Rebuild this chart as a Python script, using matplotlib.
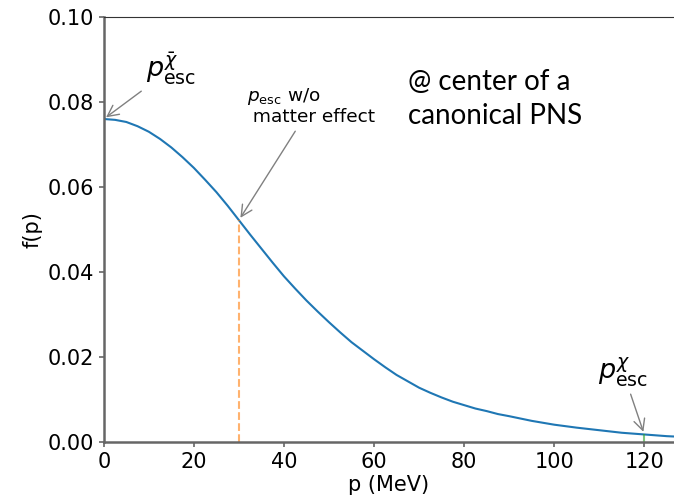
import numpy as np
import matplotlib
matplotlib.use("Agg")
import matplotlib.pyplot as plt

# momentum grid (MeV) and distribution
p_vals = [0, 2.5, 5, 7.5, 10, 12.5, 15, 17.5, 20, 22.5, 25, 27.5, 30, 32.5,
          35, 37.5, 40, 42.5, 45, 47.5, 50, 52.5, 55, 57.5, 60, 62.5, 65,
          67.5, 70, 72.5, 75, 77.5, 80, 82.5, 85, 87.5, 90, 95, 100, 105,
          110, 115, 120, 125, 127]
f_vals = [0.0760, 0.0758, 0.0753, 0.0743, 0.0730, 0.0713, 0.0693, 0.0670,
          0.0645, 0.0617, 0.0588, 0.0556, 0.0522, 0.0488, 0.0455, 0.0422,
          0.0390, 0.0361, 0.0333, 0.0307, 0.0282, 0.0258, 0.0235, 0.0215,
          0.0195, 0.0176, 0.0158, 0.0143, 0.0128, 0.0116, 0.0105, 0.0095,
          0.0087, 0.0079, 0.0073, 0.0066, 0.0061, 0.0050, 0.0041, 0.0034,
          0.0028, 0.0022, 0.0018, 0.0014, 0.0013]

p_esc_nomatter = 30
f_esc_nomatter = 0.0522
p_esc_chi = 120
f_esc_chi = 0.0018
p_esc_chibar = 0
f_esc_chibar = 0.0760

fig = plt.figure(figsize=(6.74, 4.99), dpi=100)
ax = fig.add_axes([0.154, 0.114, 0.846, 0.852])

ax.plot(p_vals, f_vals, color="tab:blue", lw=1.5)
ax.vlines(p_esc_nomatter, 0, f_esc_nomatter, colors="tab:orange", linestyles="--", alpha=0.6, lw=1.5)
ax.vlines(p_esc_chi, 0, f_esc_chi, colors="tab:green", alpha=0.6, lw=1.5)

ax.set_xlim(0, 126.6)
ax.set_ylim(0, 0.1)
ax.set_yticks([0, 0.02, 0.04, 0.06, 0.08, 0.10])
ax.set_xticks([0, 20, 40, 60, 80, 100, 120])
ax.tick_params(labelsize=15, color="#666666", width=1.2)
ax.set_xlabel("p (MeV)", fontsize=15, labelpad=2)
ax.set_ylabel("f(p)", fontsize=15)

for side in ["left", "bottom"]:
    ax.spines[side].set_color("#666666")
    ax.spines[side].set_linewidth(1.8)
ax.spines["top"].set_color("#333333")
ax.spines["right"].set_visible(False)

arrow = dict(arrowstyle="->", color="gray", lw=1, mutation_scale=20)
ax.annotate(r"$p^{\bar{\chi}}_{\rm esc}$", xy=(p_esc_chibar, f_esc_chibar),
            xytext=(15.0, 0.0878), fontsize=19.5, arrowprops=arrow, ha="center", va="center")
ax.annotate("$p_{\\rm esc}$ w/o\n matter effect", xy=(p_esc_nomatter, f_esc_nomatter),
            xytext=(31.8, 0.0790), fontsize=13.3, arrowprops=arrow, ha="left", va="center",
            linespacing=1.05)
ax.annotate(r"$p^{\chi}_{\rm esc}$", xy=(p_esc_chi, f_esc_chi),
            xytext=(115.3, 0.0165), fontsize=19.5, arrowprops=arrow, ha="center", va="center")

ax.text(67.5, 0.0807, "@ center of a\ncanonical PNS", fontsize=20, ha="left", va="center",
        family=["Lato", "DejaVu Sans"], linespacing=1.35)

fig.savefig("out.png", dpi=100)
